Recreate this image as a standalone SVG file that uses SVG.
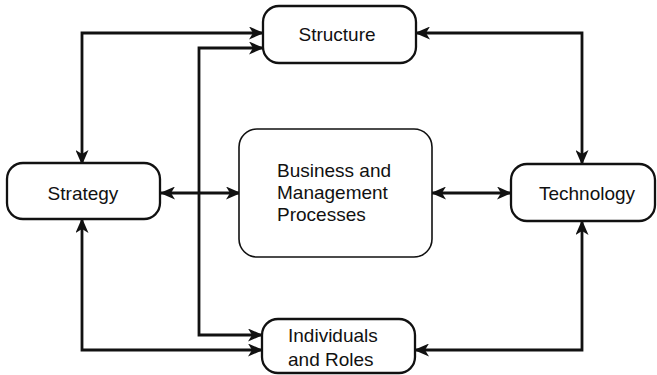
<svg xmlns="http://www.w3.org/2000/svg" width="657" height="375" viewBox="0 0 657 375">
  <style>
    .box { fill: #ffffff; stroke: #111111; stroke-width: 2.3; }
    .box.thin { stroke-width: 1.6; }
    .lbl { font-family: "Liberation Sans", Arial, Helvetica, sans-serif; font-size: 19px; fill: #111111; }
    .mid { text-anchor: middle; }
    .link { fill: none; stroke: #111111; stroke-width: 2.8; stroke-linejoin: miter; marker-start: url(#head); marker-end: url(#head); }
  </style>
  <defs>
    <marker id="head" viewBox="0 0 15 13" refX="14" refY="6.5" markerWidth="15" markerHeight="13" markerUnits="userSpaceOnUse" orient="auto-start-reverse">
      <path d="M0,0 L15,6.5 L0,13 L4,6.5 Z" fill="#111111"/>
    </marker>
  </defs>

  <rect width="657" height="375" fill="#ffffff"/>

  <!-- connectors -->
  <g id="connectors">
    <path class="link" d="M82,164 V33 H263"/>
    <path class="link" d="M263,48 H199 V335 H262"/>
    <path class="link" d="M161,193 H240"/>
    <path class="link" d="M416,33 H582 V164"/>
    <path class="link" d="M432,193 H511"/>
    <path class="link" d="M82,219 V350 H262"/>
    <path class="link" d="M582,221 V350 H415"/>
  </g>

  <!-- nodes -->
  <g id="structure">
    <rect class="box" x="263" y="6" width="153" height="57" rx="16"/>
    <text class="lbl mid" x="337" y="41">Structure</text>
  </g>

  <g id="strategy">
    <rect class="box" x="7" y="163" width="153" height="56" rx="16"/>
    <text class="lbl mid" x="83" y="200">Strategy</text>
  </g>

  <g id="technology">
    <rect class="box" x="511" y="164" width="144" height="57" rx="16"/>
    <text class="lbl mid" x="587" y="200">Technology</text>
  </g>

  <g id="processes">
    <rect class="box thin" x="239" y="129" width="193" height="128" rx="18"/>
    <text class="lbl" x="277" y="177">Business and</text>
    <text class="lbl" x="277" y="199">Management</text>
    <text class="lbl" x="277" y="221">Processes</text>
  </g>

  <g id="individuals">
    <rect class="box" x="262" y="319" width="153" height="54" rx="16"/>
    <text class="lbl" x="288" y="342">Individuals</text>
    <text class="lbl" x="288" y="366">and Roles</text>
  </g>
</svg>
